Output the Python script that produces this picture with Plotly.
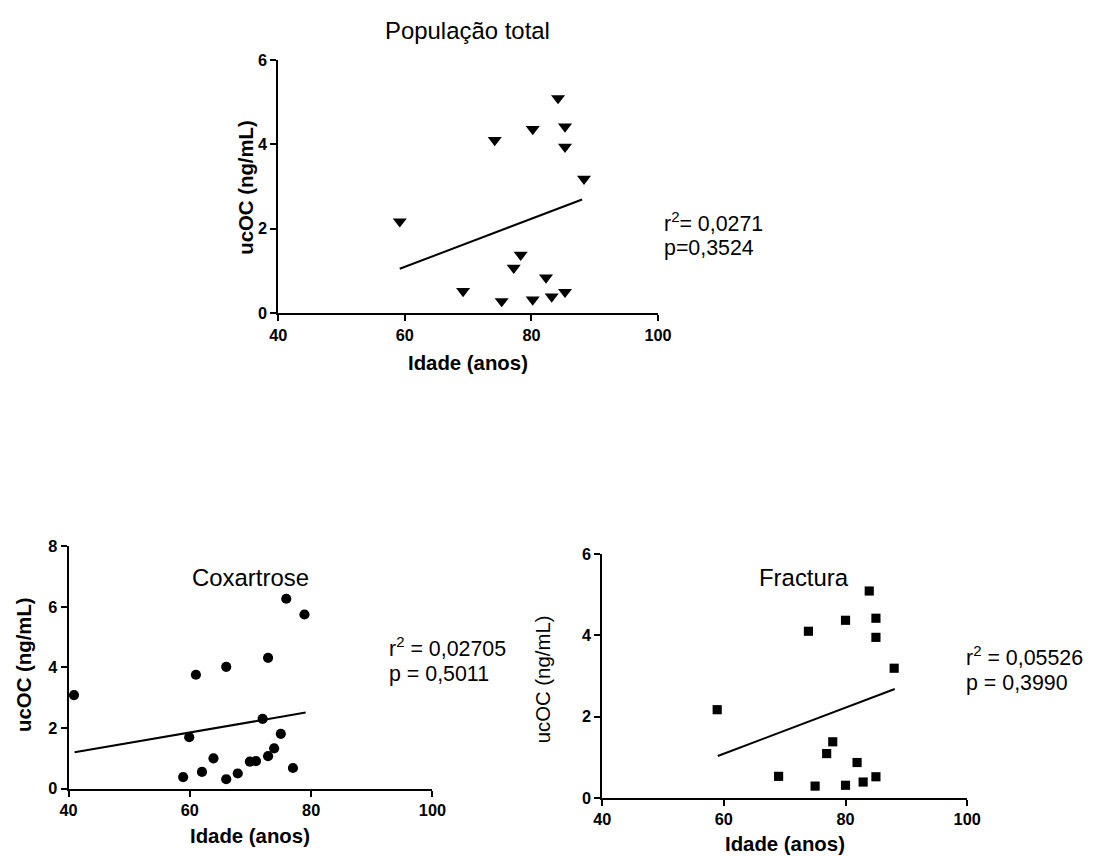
import plotly.graph_objects as go

# --- data ---
total_age = [59.2, 69.2, 74.2, 75.3, 77.2, 78.3, 80.2, 80.2, 82.3, 83.2, 84.2, 85.3, 85.3, 85.3, 88.3]
total_ucoc = [2.17, 0.52, 4.10, 0.28, 1.07, 1.38, 4.36, 0.32, 0.84, 0.39, 5.09, 4.42, 3.94, 0.50, 3.18]
total_fit_x = [59.2, 88.0]
total_fit_y = [1.05, 2.69]

cox_age = [40.9, 58.9, 59.9, 61.0, 62.0, 63.9, 66.0, 66.0, 67.9, 69.9, 70.9, 72.0, 72.9, 72.9, 73.9, 75.0, 75.9, 77.0, 78.9]
cox_ucoc = [3.09, 0.38, 1.70, 3.76, 0.55, 1.00, 4.02, 0.31, 0.50, 0.89, 0.91, 2.30, 1.07, 4.32, 1.33, 1.81, 6.27, 0.68, 5.75]
cox_fit_x = [41.0, 79.1]
cox_fit_y = [1.20, 2.51]

fra_age = [58.9, 69.0, 73.9, 75.0, 76.9, 77.9, 80.0, 80.0, 81.9, 82.9, 83.9, 85.0, 85.0, 85.0, 88.0]
fra_ucoc = [2.17, 0.53, 4.10, 0.29, 1.09, 1.38, 4.37, 0.31, 0.87, 0.39, 5.09, 4.42, 3.95, 0.52, 3.19]
fra_fit_x = [59.0, 88.1]
fra_fit_y = [1.03, 2.68]

titles = ["População total", "Coxartrose", "Fractura"]
stat_r = ["r<sup>2</sup>= 0,0271", "r<sup>2</sup> = 0,02705", "r<sup>2</sup> = 0,05526"]
stat_p = ["p=0,3524", "p = 0,5011", "p = 0,3990"]
x_title = "Idade (anos)"
y_title = "ucOC (ng/mL)"
x_ticks = [40, 60, 80, 100]
y_ticks_total = [0, 2, 4, 6]
y_ticks_cox = [0, 2, 4, 6, 8]
y_ticks_fra = [0, 2, 4, 6]

W, H = 1100, 857
# the captured picture shows the page with an 8px offset and a ~0.982 scale;
# layout positions below are given in picture pixels and converted here.
OFF, SC = 8.0, 0.982
FONT = "Arial, Liberation Sans, sans-serif"


def fx(t):
    return ((t - OFF) / SC) / W


def fy(t):
    return 1 - ((t - OFF) / SC) / H


def fs(size):
    return size / SC


fig = go.Figure()

panels = [
    dict(x=total_age, y=total_ucoc, fx=total_fit_x, fy=total_fit_y, sym="triangle-down", size=12,
         xa="x", ya="y", xpx=(278, 659), ypx=(313, 59), yr=[0, 6], yt=y_ticks_total, ybold=True,
         title=(468, 30), xt=(468, 363), yti=(246, 187), sr=(663, 222), sp=(663, 248)),
    dict(x=cox_age, y=cox_ucoc, fx=cox_fit_x, fy=cox_fit_y, sym="circle", size=10,
         xa="x2", ya="y2", xpx=(67.7, 432.7), ypx=(790, 547), yr=[0, 8], yt=y_ticks_cox, ybold=True,
         title=(250, 578), xt=(250, 838), yti=(23, 665), sr=(387, 648), sp=(387, 675)),
    dict(x=fra_age, y=fra_ucoc, fx=fra_fit_x, fy=fra_fit_y, sym="square", size=9,
         xa="x3", ya="y3", xpx=(603, 969), ypx=(799.3, 554.7), yr=[0, 6], yt=y_ticks_fra, ybold=False,
         title=(805, 578), xt=(786, 846), yti=(544, 680), sr=(966, 657), sp=(966, 684)),
]

layout = dict(
    width=W, height=H,
    margin=dict(l=0, r=0, t=0, b=0),
    paper_bgcolor="white", plot_bgcolor="white",
    showlegend=False,
    font=dict(family=FONT, color="black"),
)

for i, p in enumerate(panels):
    fig.add_trace(go.Scatter(x=p["x"], y=p["y"], mode="markers", xaxis=p["xa"], yaxis=p["ya"],
                             marker=dict(symbol=p["sym"], size=fs(p["size"]), color="black",
                                         line=dict(width=0)),
                             cliponaxis=False))
    fig.add_trace(go.Scatter(x=p["fx"], y=p["fy"], mode="lines", xaxis=p["xa"], yaxis=p["ya"],
                             line=dict(color="black", width=2), cliponaxis=False))
    sfx = "" if i == 0 else str(i + 1)
    layout["xaxis" + sfx] = dict(
        domain=[fx(p["xpx"][0]), fx(p["xpx"][1])], range=[40, 100], tickvals=x_ticks,
        ticktext=["<b>%d</b>" % v for v in x_ticks],
        showline=True, linewidth=2, linecolor="black", ticks="outside", ticklen=6, tickwidth=2,
        tickcolor="black", showgrid=False, zeroline=False, anchor="y" + sfx,
        tickfont=dict(size=fs(16), family=FONT),
    )
    layout["yaxis" + sfx] = dict(
        domain=[fy(p["ypx"][0]), fy(p["ypx"][1])], range=p["yr"], tickvals=p["yt"],
        ticktext=["<b>%d</b>" % v for v in p["yt"]],
        showline=True, linewidth=2, linecolor="black", ticks="outside", ticklen=6, tickwidth=2,
        tickcolor="black", showgrid=False, zeroline=False, anchor="x" + sfx,
        tickfont=dict(size=fs(16), family=FONT),
    )

    def ann(text, pos, size, anchor="center", angle=0):
        fig.add_annotation(text=text, x=fx(pos[0]), y=fy(pos[1]), xref="paper", yref="paper",
                           showarrow=False, font=dict(size=fs(size), family=FONT),
                           xanchor=anchor, yanchor="middle", textangle=angle)

    ann(titles[i], p["title"], 23.5)
    ann("<b>%s</b>" % x_title, p["xt"], 20)
    ann(("<b>%s</b>" % y_title) if p["ybold"] else y_title, p["yti"], 20, angle=-90)
    ann(stat_r[i], p["sr"], 21, anchor="left")
    ann(stat_p[i], p["sp"], 21, anchor="left")

fig.update_layout(**layout)

fig.write_html("out.html")
